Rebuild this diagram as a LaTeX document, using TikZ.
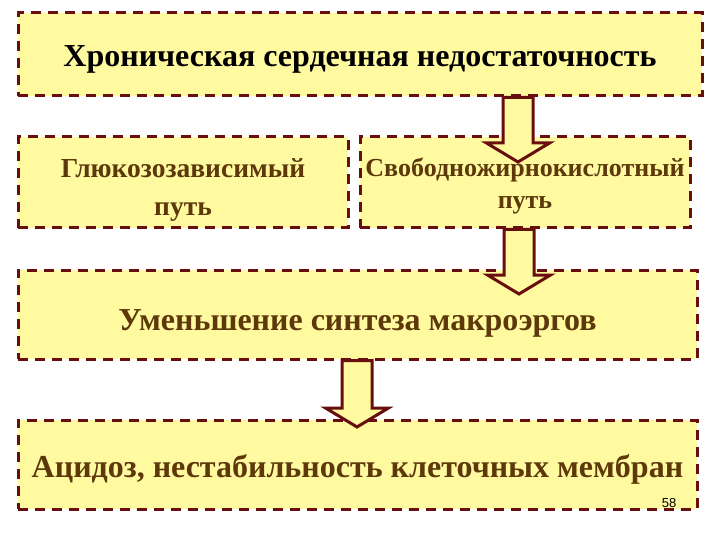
\documentclass[tikz,border=0pt]{standalone}
\usepackage{fontspec}
\setmainfont{Liberation Serif}
\newfontfamily\numfont{Liberation Sans}
\usetikzlibrary{calc}
\definecolor{boxfill}{RGB}{255,250,160}
\definecolor{boxline}{RGB}{104,14,14}
\definecolor{txtbrown}{RGB}{92,56,10}
\tikzset{
  boxstyle/.style={draw=boxline, fill=boxfill, line width=3pt,
    dash pattern=on 10pt off 7pt, inner sep=0pt, align=center,
    font=\bfseries, text=txtbrown},
  blockarrow/.style={draw=boxline, fill=boxfill, line width=3pt, line join=miter}
}
\newcommand{\blockarr}[2]{%
  \path let \p1=(#1), \p2=(#2) in
    [blockarrow] (\x1-15pt,\y1) -- (\x1+15pt,\y1) -- (\x1+15pt,\y2+19pt)
    -- (\x1+31.5pt,\y2+19pt) -- (\x1,\y2) -- (\x1-31.5pt,\y2+19pt)
    -- (\x1-15pt,\y2+19pt) -- cycle;}
\newcommand{\lowered}[2]{\raisebox{#1}[\height][\depth]{#2}}
\newcommand{\lines}[2]{\lowered{#1}{\begin{tabular}{@{}c@{}}#2\end{tabular}}}
\begin{document}
\begin{tikzpicture}[x=1pt,y=-1pt]
\useasboundingbox (0,0) rectangle (720,540);
\node[boxstyle, minimum width=684pt, minimum height=83pt, text=black,
  font=\bfseries\fontsize{32}{36}\selectfont] (b1) at (360,54.5)
  {\lowered{-5pt}{Хроническая сердечная недостаточность}};
\node[boxstyle, minimum width=330pt, minimum height=91pt,
  font=\bfseries\fontsize{27.5}{38}\selectfont] (b2) at (183,182.5)
  {\lines{-6pt}{Глюкозозависимый\\путь}};
\node[boxstyle, minimum width=330pt, minimum height=91pt,
  font=\bfseries\fontsize{26}{32}\selectfont] (b3) at (525,182.5)
  {\lines{-4pt}{Свободножирнокислотный\\путь}};
\node[boxstyle, minimum width=679pt, minimum height=89pt,
  font=\bfseries\fontsize{32}{36}\selectfont] (b4) at (357.5,314.5)
  {\lowered{-9pt}{Уменьшение синтеза макроэргов}};
\node[boxstyle, minimum width=679pt, minimum height=89pt,
  font=\bfseries\fontsize{32}{36}\selectfont] (b5) at (357.5,464.5)
  {\lowered{-5pt}{Ацидоз, нестабильность клеточных мембран}};
\node[font=\numfont\fontsize{13}{15}\selectfont, inner sep=0pt] (pn) at (669,503) {58};
\coordinate (a1s) at (b1.south -| 518,0);
\coordinate (a1e) at (518,162);
\coordinate (a2s) at (b3.south -| 519,0);
\coordinate (a2e) at (519,294);
\coordinate (a3s) at (b4.south -| 357,0);
\coordinate (a3e) at (357,427);
\blockarr{a1s}{a1e}
\blockarr{a2s}{a2e}
\blockarr{a3s}{a3e}
\end{tikzpicture}
\end{document}
